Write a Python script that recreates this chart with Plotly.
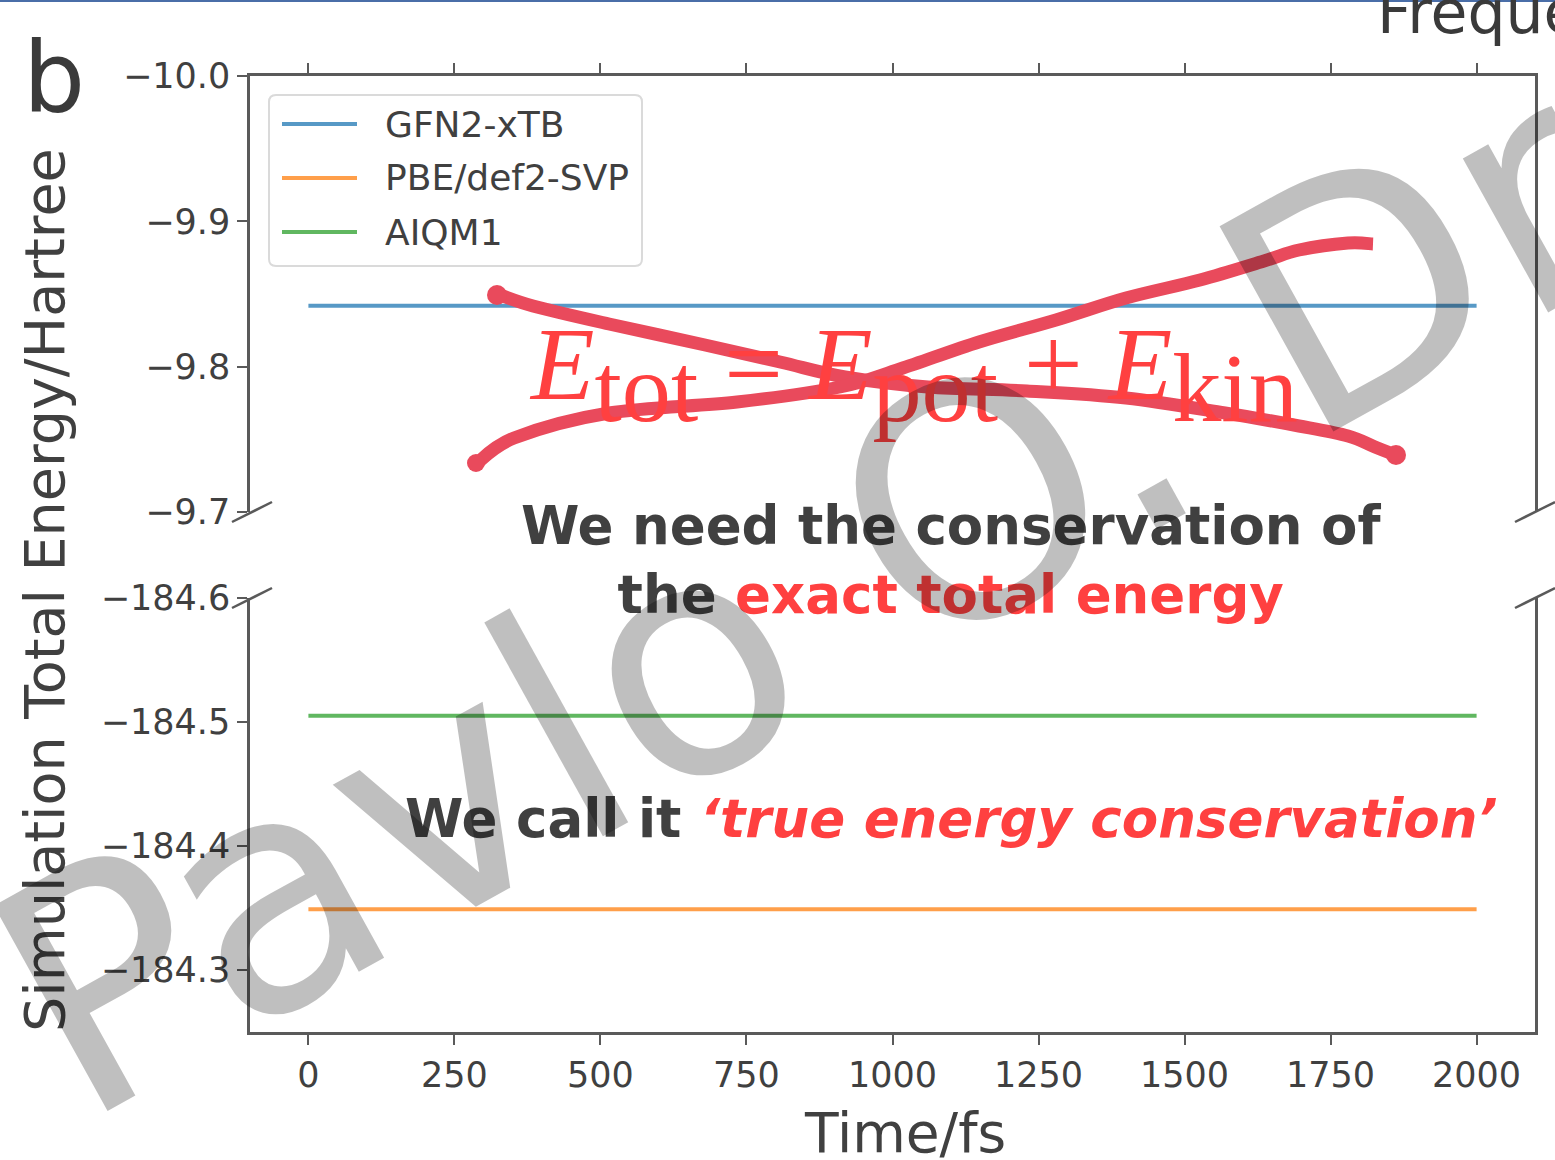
import plotly.graph_objects as go

# ---------------- data ----------------
time_fs = [0, 250, 500, 750, 1000, 1250, 1500, 1750, 2000]
e_gfn2_xtb = [-9.842, -9.842, -9.842, -9.842, -9.842, -9.842, -9.842, -9.842, -9.842]
e_pbe_def2svp = [-184.349, -184.349, -184.349, -184.349, -184.349, -184.349, -184.349, -184.349, -184.349]
e_aiqm1 = [-184.505, -184.505, -184.505, -184.505, -184.505, -184.505, -184.505, -184.505, -184.505]

series_names = ["GFN2-xTB", "PBE/def2-SVP", "AIQM1"]
series_colors = ["#1f77b4", "#ff7f0e", "#2ca02c"]

x_ticks = [0, 250, 500, 750, 1000, 1250, 1500, 1750, 2000]
top_y_ticks = [-10.0, -9.9, -9.8, -9.7]
bottom_y_ticks = [-184.6, -184.5, -184.4, -184.3]

# ---------------- geometry helpers ----------------
W, H = 1555, 1160
ML, MR, MT, MB = 250, 20, 76, 128
PW = W - ML - MR
PH = H - MT - MB


def px(x):
    return (x - ML) / PW


def py(y):
    return (H - MB - y) / PH


def smooth_path(points):
    pts = [(px(x), py(y)) for x, y in points]
    d = "M{:.5f},{:.5f}".format(*pts[0])
    for i in range(len(pts) - 1):
        p0 = pts[i - 1] if i > 0 else pts[i]
        p1 = pts[i]
        p2 = pts[i + 1]
        p3 = pts[i + 2] if i + 2 < len(pts) else pts[i + 1]
        c1 = (p1[0] + (p2[0] - p0[0]) / 6, p1[1] + (p2[1] - p0[1]) / 6)
        c2 = (p2[0] - (p3[0] - p1[0]) / 6, p2[1] - (p3[1] - p1[1]) / 6)
        d += " C{:.5f},{:.5f} {:.5f},{:.5f} {:.5f},{:.5f}".format(c1[0], c1[1], c2[0], c2[1], p2[0], p2[1])
    return d


def rounded_box(x0, y0, x1, y1, r):
    pts = [
        ("M", x0 + r, y0), ("L", x1 - r, y0), ("Q", x1, y0, x1, y0 + r),
        ("L", x1, y1 - r), ("Q", x1, y1, x1 - r, y1), ("L", x0 + r, y1),
        ("Q", x0, y1, x0, y1 - r), ("L", x0, y0 + r), ("Q", x0, y0, x0 + r, y0),
    ]
    d = ""
    for p in pts:
        if p[0] == "Q":
            d += " Q{:.5f},{:.5f} {:.5f},{:.5f}".format(px(p[1]), py(p[2]), px(p[3]), py(p[4]))
        else:
            d += " {}{:.5f},{:.5f}".format(p[0], px(p[1]), py(p[2]))
    return d.strip() + " Z"


FONT = "DejaVu Sans"
TXT = "#404040"
AX = "#5a5a5a"
RED = "#ff4040"
STROKE = "#e94a5c"

fig = go.Figure()

fig.add_trace(go.Scatter(x=time_fs, y=e_gfn2_xtb, mode="lines", name=series_names[0],
                         line=dict(color=series_colors[0], width=4), opacity=0.75,
                         xaxis="x2", yaxis="y2", showlegend=False))
fig.add_trace(go.Scatter(x=time_fs, y=e_pbe_def2svp, mode="lines", name=series_names[1],
                         line=dict(color=series_colors[1], width=4), opacity=0.75,
                         xaxis="x", yaxis="y", showlegend=False))
fig.add_trace(go.Scatter(x=time_fs, y=e_aiqm1, mode="lines", name=series_names[2],
                         line=dict(color=series_colors[2], width=4), opacity=0.75,
                         xaxis="x", yaxis="y", showlegend=False))

axis_common = dict(showline=True, linecolor=AX, linewidth=2.5, ticks="outside", ticklen=10,
                   tickwidth=2, tickcolor=AX, showgrid=False, zeroline=False,
                   tickfont=dict(family=FONT, size=35, color=TXT))

fig.update_layout(
    width=W, height=H,
    margin=dict(l=ML, r=MR, t=MT, b=MB),
    paper_bgcolor="white", plot_bgcolor="white",
    showlegend=False,
    xaxis=dict(domain=[0, 1], anchor="y", range=[-100, 2100], tickvals=x_ticks,
               mirror=False, **axis_common),
    xaxis2=dict(domain=[0, 1], anchor="y2", range=[-100, 2100], tickvals=x_ticks, matches="x",
                side="top", showticklabels=False, mirror=False, **axis_common),
    yaxis=dict(domain=[0, py(598)], anchor="x", range=[-184.25, -184.6], tickvals=bottom_y_ticks,
               tickformat=".1f", mirror=True, **axis_common),
    yaxis2=dict(domain=[py(512), 1], anchor="x2", range=[-9.7, -10.0], tickvals=top_y_ticks,
                tickformat=".1f", mirror=True, **axis_common),
)

shapes = []
# top border of the slide
shapes.append(dict(type="line", xref="paper", yref="paper", x0=px(0), x1=px(W), y0=py(1), y1=py(1),
                   line=dict(color="#4a6ea8", width=2)))
# axis break marks
for (bx, by) in [(252, 512), (1535, 512), (252, 598), (1535, 598)]:
    shapes.append(dict(type="line", xref="paper", yref="paper",
                       x0=px(bx - 20), y0=py(by + 10), x1=px(bx + 20), y1=py(by - 10),
                       line=dict(color=AX, width=2.5)))
# legend box
shapes.append(dict(type="path", xref="paper", yref="paper", path=rounded_box(269, 95, 642, 266, 7),
                   fillcolor="rgba(255,255,255,0.85)", line=dict(color="#dadada", width=2)))
legend_rows = [124, 178, 232]
for name, color, ry in zip(series_names, series_colors, legend_rows):
    shapes.append(dict(type="line", xref="paper", yref="paper", x0=px(282), x1=px(357), y0=py(ry), y1=py(ry),
                       line=dict(color=color, width=4), opacity=0.75))

# red cross-out strokes over the formula
stroke_a = [(495, 293), (533, 306), (609, 324), (705, 345), (780, 362), (845, 377), (928, 387),
            (1027, 391), (1126, 398), (1225, 413), (1299, 426), (1348, 436), (1375, 447), (1398, 456)]
stroke_b = [(475, 465), (514, 438), (609, 413), (737, 402), (840, 387), (900, 369), (979, 342),
            (1056, 320), (1126, 298), (1200, 280), (1264, 261), (1299, 250), (1348, 243), (1373, 244)]
for s in (stroke_a, stroke_b):
    shapes.append(dict(type="path", xref="paper", yref="paper", path=smooth_path(s),
                       line=dict(color=STROKE, width=13)))
for (cx, cy, r) in [(497, 295, 10), (1396, 455, 10), (476, 463, 9)]:
    shapes.append(dict(type="circle", xref="paper", yref="paper",
                       x0=px(cx - r), x1=px(cx + r), y0=py(cy + r), y1=py(cy - r),
                       fillcolor=STROKE, line=dict(width=0)))

annotations = []


def ann(text, x, y, size, color=TXT, family=FONT, angle=0, xanchor="center", yanchor="middle", align="center"):
    annotations.append(dict(text=text, x=px(x), y=py(y), xref="paper", yref="paper", showarrow=False,
                            xanchor=xanchor, yanchor=yanchor, textangle=angle, align=align,
                            font=dict(family=family, size=size, color=color)))


# legend labels
for name, ry in zip(series_names, legend_rows):
    ann(name, 383, ry, 36, xanchor="left")

# axis titles and panel letter
ann("Simulation Total Energy/Hartree", 44, 590, 55.5, angle=-90)
ann("Time/fs", 905, 1133, 55)
ann("b", 54, 78, 98, color="#3a3a3a")
ann("Frequency", 1375, 12, 60, color="#3a3a3a", xanchor="left")

# formula (crossed out)
sub = "<sub><span style='font-size:135%'>{}</span></sub>"
formula = ("<i>E</i>" + sub.format("tot") + " = <i>E</i>" + sub.format("pot") +
           " + <i>E</i>" + sub.format("kin"))
ann(formula, 913, 374, 104, color=RED, family="Liberation Serif")

# explanatory texts
ann("<b>We need the conservation of<br>the <span style='color:%s'>exact total energy</span></b>" % RED,
    951, 560, 53)
ann("<b>We call it <span style='color:%s'><i>‘true energy conservation’</i></span></b>" % RED,
    952, 818, 53)

# watermark
ann("Pavlo O. Dral", 930, 527, 322, color="rgba(0,0,0,0.25)", angle=-29)

fig.update_layout(shapes=shapes, annotations=annotations)

fig.write_html("out.html")
